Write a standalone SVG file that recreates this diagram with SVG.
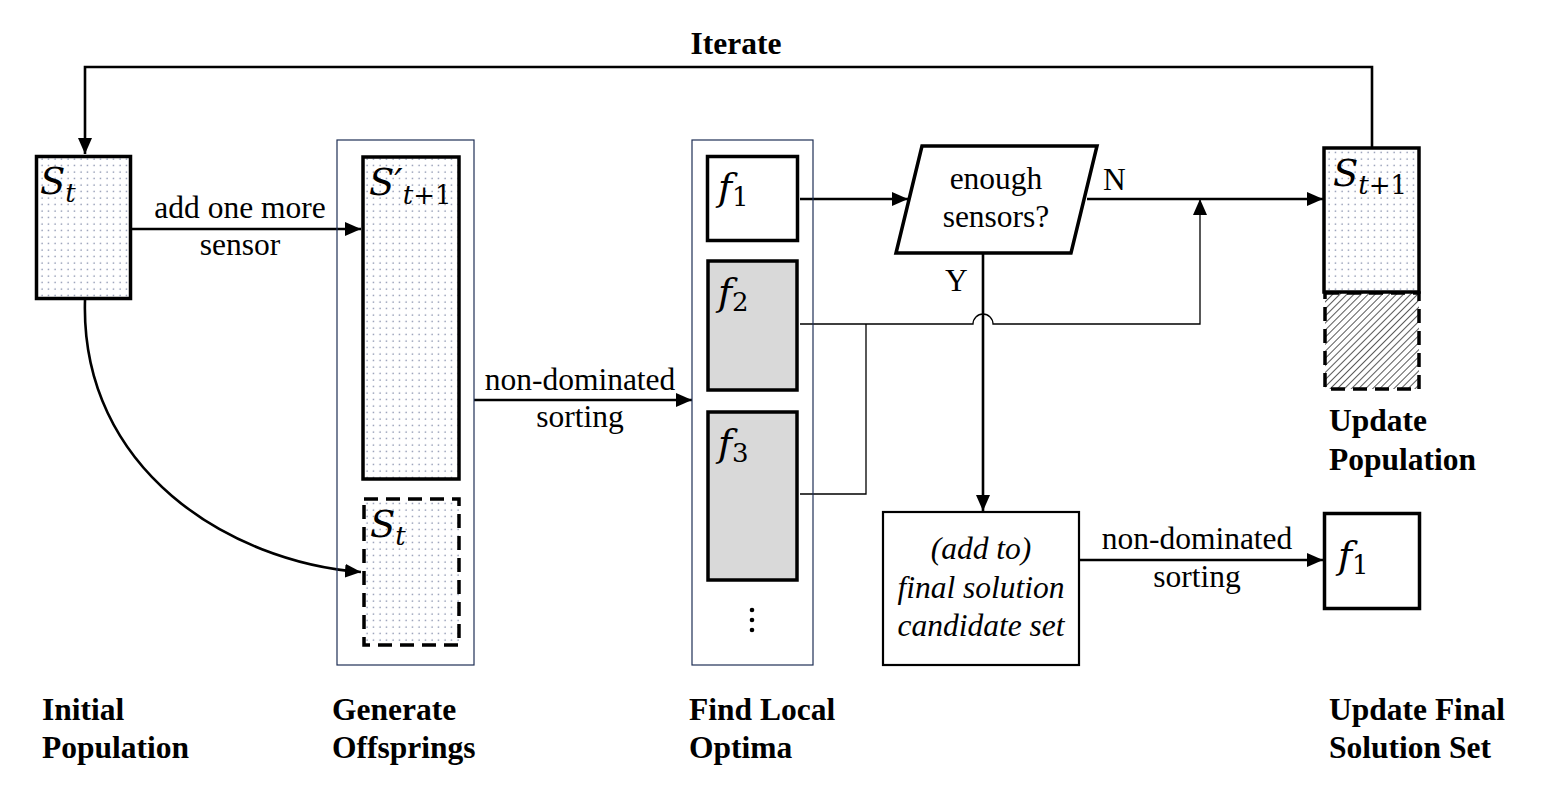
<svg xmlns="http://www.w3.org/2000/svg" width="1542" height="804" viewBox="0 0 1542 804">
<style>
.t{font-family:"Liberation Serif","Times New Roman",serif;font-size:31.5px;fill:#000}
.b{font-family:"Liberation Serif","Times New Roman",serif;font-size:31.5px;font-weight:bold;fill:#000}
.m{font-family:"DejaVu Serif","Liberation Serif",serif;font-style:italic;fill:#000}
.ms{font-family:"DejaVu Serif","Liberation Serif",serif;fill:#000}
.box{stroke:#000;stroke-width:3.5}
.dash{stroke:#000;stroke-width:3.5;stroke-dasharray:14 8}
.cont{fill:none;stroke:#1f2f55;stroke-width:1.2}
.c{fill:none;stroke:#000;stroke-width:2.6}
.thin{fill:none;stroke:#000;stroke-width:1.3}
</style>
<defs>
<pattern id="dots" width="6.5" height="6.5" patternUnits="userSpaceOnUse">
<rect width="6.5" height="6.5" fill="#fff"/>
<circle cx="3" cy="3" r="0.6" fill="#3b4a78"/>
</pattern>
<pattern id="hatch" width="5" height="5" patternUnits="userSpaceOnUse" patternTransform="rotate(45)">
<rect width="5" height="5" fill="#fff"/>
<line x1="0" y1="0" x2="0" y2="5" stroke="#000" stroke-width="1.3"/>
</pattern>
<marker id="ar" viewBox="0 0 16 14" refX="16" refY="7" markerWidth="16" markerHeight="14" markerUnits="userSpaceOnUse" orient="auto">
<path d="M0,0 L16,7 L0,14 Z" fill="#000"/>
</marker>
</defs>
<rect width="1542" height="804" fill="#fff"/>

<g id="connectors">
<path class="c" d="M1372,147 V67 H85 V154" marker-end="url(#ar)"/>
<path class="c" d="M132,229 H361" marker-end="url(#ar)"/>
<path class="c" d="M85,300 C80,470 230,562 361,572" marker-end="url(#ar)" stroke-width="3"/>
<path class="c" d="M474,400 H692" marker-end="url(#ar)"/>
<path class="c" d="M800,199 H908" marker-end="url(#ar)"/>
<path class="c" d="M1087,199 H1323" marker-end="url(#ar)"/>
<path class="c" d="M983,253 V511" marker-end="url(#ar)" stroke-width="3"/>
<path class="thin" d="M800,324 H973 A10,10 0 0 1 993,324 H1200 V199" marker-end="url(#ar)"/>
<path class="thin" d="M866,324 V494 H800"/>
<path class="c" d="M1080,560 H1323" marker-end="url(#ar)"/>
</g>

<g id="initial">
<rect class="box" x="36.5" y="156.5" width="94" height="142" fill="url(#dots)"/>
<text x="40" y="194"><tspan class="m" font-size="37">S</tspan><tspan class="m" font-size="26" dy="8">t</tspan></text>
</g>

<g id="offsprings">
<rect class="cont" x="337" y="140" width="137" height="525"/>
<rect class="box" x="363" y="157" width="96" height="322" fill="url(#dots)"/>
<text x="369" y="195"><tspan class="m" font-size="37">S′</tspan><tspan class="m" font-size="26" dy="9">t</tspan><tspan class="ms" font-size="26">+1</tspan></text>
<rect class="dash" x="364" y="499" width="95" height="146" fill="url(#dots)"/>
<text x="370" y="537"><tspan class="m" font-size="37">S</tspan><tspan class="m" font-size="26" dy="8">t</tspan></text>
</g>

<g id="local-optima">
<rect class="cont" x="692" y="140" width="121" height="525"/>
<rect class="box" x="707.5" y="156.5" width="90" height="84" fill="#fff"/>
<text x="718" y="200"><tspan class="m" font-size="38">f</tspan><tspan class="ms" font-size="26" dy="6">1</tspan></text>
<rect class="box" x="708" y="261" width="89" height="129" fill="#d9d9d9"/>
<text x="718" y="305"><tspan class="m" font-size="38">f</tspan><tspan class="ms" font-size="26" dy="6">2</tspan></text>
<rect class="box" x="708" y="412" width="89" height="168" fill="#d9d9d9"/>
<text x="718" y="456"><tspan class="m" font-size="38">f</tspan><tspan class="ms" font-size="26" dy="6">3</tspan></text>
<circle cx="752" cy="610" r="2.3" fill="#000"/>
<circle cx="752" cy="620" r="2.3" fill="#000"/>
<circle cx="752" cy="630" r="2.3" fill="#000"/>
</g>

<g id="decision">
<polygon class="box" points="922,146 1097,146 1071,253 896,253" fill="#fff"/>
<text class="t" x="996" y="189" text-anchor="middle">enough</text>
<text class="t" x="996" y="227" text-anchor="middle">sensors?</text>
<text class="t" x="1103" y="190">N</text>
<text class="t" x="945" y="291">Y</text>
</g>

<g id="update-population">
<rect class="dash" x="1325" y="293" width="94" height="96" fill="url(#hatch)"/>
<rect class="box" x="1324" y="148" width="95" height="144" fill="url(#dots)"/>
<text x="1333" y="186"><tspan class="m" font-size="37">S</tspan><tspan class="m" font-size="26" dy="8">t</tspan><tspan class="ms" font-size="26">+1</tspan></text>
</g>

<g id="candidate">
<rect x="883" y="512" width="196" height="153" fill="#fff" stroke="#000" stroke-width="2.2"/>
<text class="t" x="981" y="559" text-anchor="middle" font-style="italic">(add to)</text>
<text class="t" x="981" y="598" text-anchor="middle" font-style="italic">final solution</text>
<text class="t" x="981" y="636" text-anchor="middle" font-style="italic">candidate set</text>
</g>

<g id="final-f1">
<rect class="box" x="1324.5" y="513.5" width="95" height="95" fill="#fff"/>
<text x="1338" y="568"><tspan class="m" font-size="38">f</tspan><tspan class="ms" font-size="26" dy="6">1</tspan></text>
</g>

<g id="labels">
<text class="b" x="736" y="54" text-anchor="middle">Iterate</text>
<text class="t" x="240" y="218" text-anchor="middle">add one more</text>
<text class="t" x="240" y="255" text-anchor="middle">sensor</text>
<text class="t" x="580" y="390" text-anchor="middle">non-dominated</text>
<text class="t" x="580" y="427" text-anchor="middle">sorting</text>
<text class="t" x="1197" y="549" text-anchor="middle">non-dominated</text>
<text class="t" x="1197" y="587" text-anchor="middle">sorting</text>
<text class="b" x="1329" y="431">Update</text>
<text class="b" x="1329" y="470">Population</text>
<text class="b" x="42" y="720">Initial</text>
<text class="b" x="42" y="758">Population</text>
<text class="b" x="332" y="720">Generate</text>
<text class="b" x="332" y="758">Offsprings</text>
<text class="b" x="689" y="720">Find Local</text>
<text class="b" x="689" y="758">Optima</text>
<text class="b" x="1329" y="720">Update Final</text>
<text class="b" x="1329" y="758">Solution Set</text>
</g>
</svg>
